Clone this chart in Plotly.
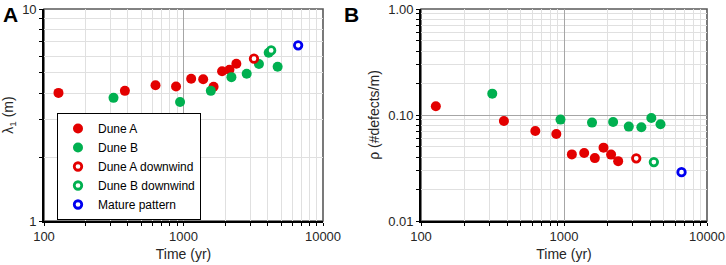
import plotly.graph_objects as go

# ---- data ----
time_A = [127, 380, 630, 884, 1135, 1384, 1643, 1890, 2135, 2392]
lam_A = [4.02, 4.11, 4.37, 4.31, 4.69, 4.66, 4.30, 5.09, 5.17, 5.52]
rho_A = [0.121, 0.0878, 0.0706, 0.0661, 0.0425, 0.0438, 0.0392, 0.0492, 0.0423, 0.0367]

time_B = [315, 945, 1570, 2205, 2838, 3475, 4080, 4730]
lam_B = [3.81, 3.64, 4.11, 4.77, 4.95, 5.50, 6.22, 5.34]
rho_B = [0.159, 0.0905, 0.0848, 0.0859, 0.0777, 0.0765, 0.0937, 0.0817]

time_A_dw = [3200]
lam_A_dw = [5.83]
rho_A_dw = [0.0390]

time_B_dw = [4250]
lam_B_dw = [6.38]
rho_B_dw = [0.0360]

time_mature = [6635]
lam_mature = [6.74]
rho_mature = [0.0289]

x_tickvals = [100, 1000, 10000]
x_ticktext = ["100", "1000", "10000"]
yA_tickvals = [1, 10]
yA_ticktext = ["1", "10"]
yB_tickvals = [0.01, 0.1, 1]
yB_ticktext = ["0.01", "0.10", "1.00"]

RED = "#E30000"
GREEN = "#00B050"
BLUE = "#0000F0"
FONT = "Liberation Sans, Arial, sans-serif"

series = [
    ("Dune A", time_A, lam_A, rho_A, RED, False),
    ("Dune B", time_B, lam_B, rho_B, GREEN, False),
    ("Dune A downwind", time_A_dw, lam_A_dw, rho_A_dw, RED, True),
    ("Dune B downwind", time_B_dw, lam_B_dw, rho_B_dw, GREEN, True),
    ("Mature pattern", time_mature, lam_mature, rho_mature, BLUE, True),
]

fig = go.Figure()

def marker(color, hollow):
    if hollow:
        return dict(size=7.5, color="white", line=dict(color=color, width=2.8))
    return dict(size=10, color=color, line=dict(width=0))

for name, t, lam, rho, col, hollow in series:
    fig.add_trace(go.Scatter(x=t, y=lam, mode="markers", name=name, marker=marker(col, hollow),
                             xaxis="x", yaxis="y", showlegend=True))
for name, t, lam, rho, col, hollow in series:
    fig.add_trace(go.Scatter(x=t, y=rho, mode="markers", name=name, marker=marker(col, hollow),
                             xaxis="x2", yaxis="y2", showlegend=False))

W, H = 726, 265
xA = [44 / W, 323 / W]
xB = [421 / W, 707 / W]
ydom = [44 / H, 256 / H]

def minor_log(decades):
    return [m * 10 ** d for d in decades for m in range(2, 10)]

tickfont = dict(family=FONT, size=13, color="#262626")
titlefont = dict(family=FONT, size=14, color="#262626")

def main_axis(domain, rng, tv, tt, minorvals, title, anchor, standoff):
    return dict(
        type="log", domain=domain, range=rng, anchor=anchor, automargin=False,
        tickvals=tv, ticktext=tt, tickfont=tickfont,
        ticks="outside", ticklen=3, tickwidth=1.3, tickcolor="black",
        showline=True, linecolor="black", linewidth=1.6,
        showgrid=True, gridcolor="#a6a6a6", gridwidth=1,
        zeroline=False,
        minor=dict(tickvals=minorvals, ticks="outside", ticklen=3, tickwidth=1.3, tickcolor="black",
                   showgrid=True, gridcolor="#e0e0e0", gridwidth=1),
        title=dict(text=title, font=titlefont, standoff=standoff),
    )

def overlay_axis(over, anchor, rng, tv, minorvals, side):
    return dict(
        type="log", overlaying=over, anchor=anchor, range=rng, side=side, automargin=False,
        tickvals=tv, showticklabels=False,
        ticks="inside", ticklen=3, tickwidth=1.3, tickcolor="black",
        showline=False, showgrid=False, zeroline=False,
        minor=dict(tickvals=minorvals, ticks="inside", ticklen=3, tickwidth=1.3, tickcolor="black",
                   showgrid=False),
    )

xminor = minor_log([2, 3])
yAminor = minor_log([0])
yBminor = minor_log([-2, -1])

fig.update_layout(
    width=W, height=H,
    margin=dict(l=0, r=0, t=0, b=0),
    paper_bgcolor="white", plot_bgcolor="white",
    font=dict(family=FONT),
    xaxis=main_axis(xA, [2, 4], x_tickvals, x_ticktext, xminor, "Time (yr)", "y", 6),
    yaxis=main_axis(ydom, [0, 1], yA_tickvals, yA_ticktext, yAminor, "λ<sub>1</sub> (m)", "x", 8),
    xaxis2=main_axis(xB, [2, 4], x_tickvals, x_ticktext, xminor, "Time (yr)", "y2", 6),
    yaxis2=main_axis(ydom, [-2, 0], yB_tickvals, yB_ticktext, yBminor, "ρ (#defects/m)", "x2", 5),
    xaxis3=overlay_axis("x", "y", [2, 4], x_tickvals, xminor, "bottom"),
    yaxis3=overlay_axis("y", "x", [0, 1], yA_tickvals, yAminor, "left"),
    xaxis4=overlay_axis("x2", "y2", [2, 4], x_tickvals, xminor, "bottom"),
    yaxis4=overlay_axis("y2", "x2", [-2, 0], yB_tickvals, yBminor, "left"),
    legend=dict(x=57 / W, y=1 - 113 / H, xanchor="left", yanchor="top",
                bordercolor="black", borderwidth=1, bgcolor="white",
                font=dict(family=FONT, size=12, color="black")),
    showlegend=True,
    shapes=[
        dict(type="rect", xref="x domain", yref="y domain", x0=0, x1=1, y0=0, y1=1,
             line=dict(color="#595959", width=1.6), layer="below"),
        dict(type="rect", xref="x2 domain", yref="y2 domain", x0=0, x1=1, y0=0, y1=1,
             line=dict(color="#595959", width=1.6), layer="below"),
    ],
    annotations=[
        dict(text="<b>A</b>", xref="paper", yref="paper", x=1 / W, y=1 - 1 / H,
             xanchor="left", yanchor="top", showarrow=False,
             font=dict(family=FONT, size=21, color="black")),
        dict(text="<b>B</b>", xref="paper", yref="paper", x=342 / W, y=1 - 1 / H,
             xanchor="left", yanchor="top", showarrow=False,
             font=dict(family=FONT, size=21, color="black")),
    ],
)

fig.write_html("out.html", config={"displayModeBar": False},
               post_script="document.body.style.margin='0';document.body.style.overflow='hidden';")
